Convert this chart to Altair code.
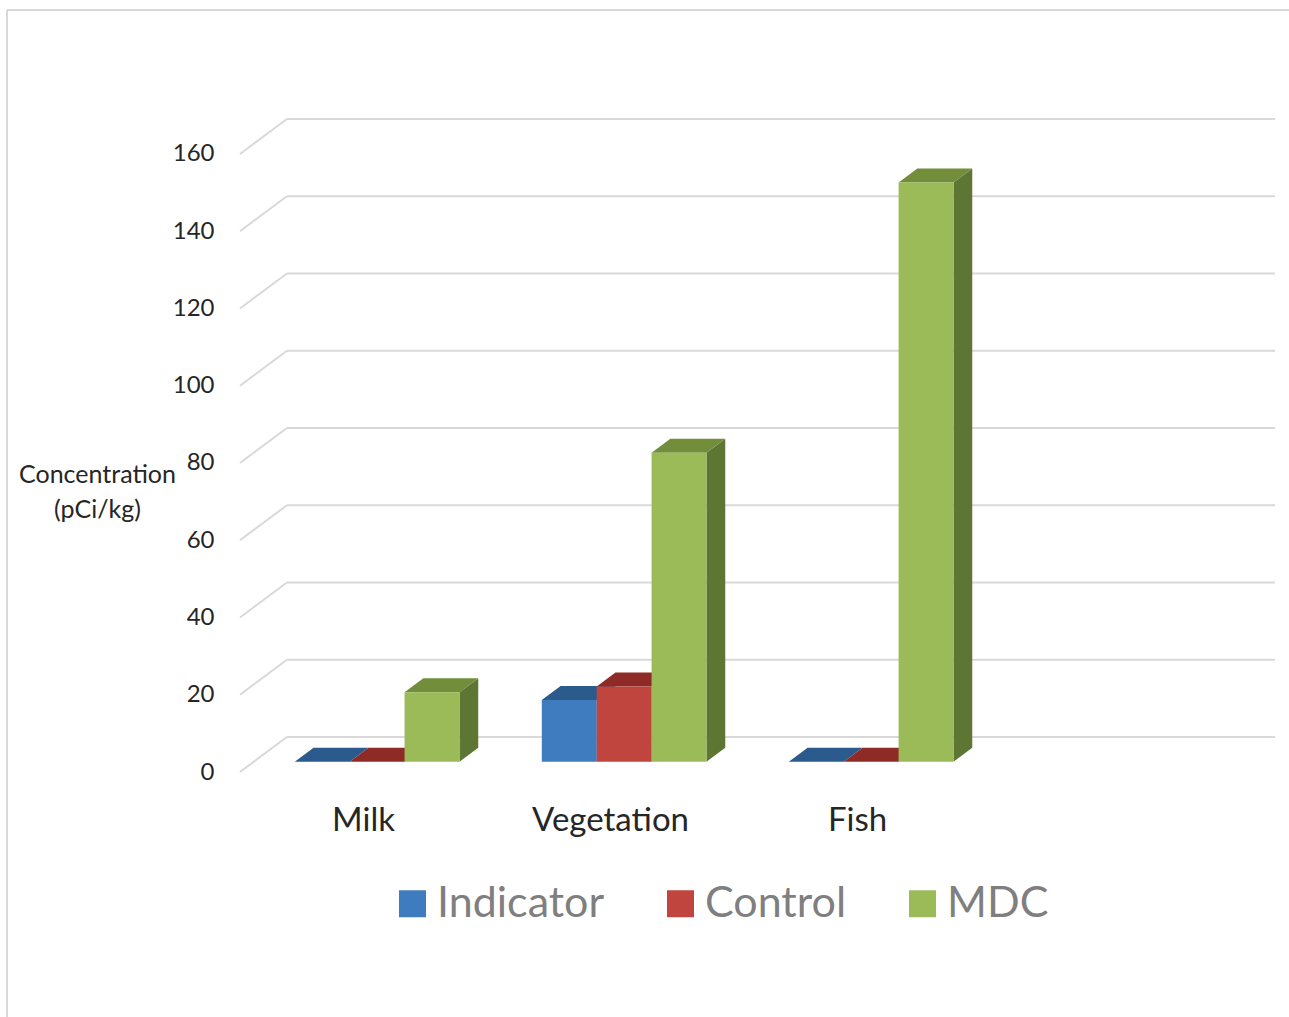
import altair as alt
import pandas as pd

# ---- data -------------------------------------------------------------
categories = ["Milk", "Vegetation", "Fish"]
series = ["Indicator", "Control", "MDC"]
indicator = [0, 16, 0]
control = [0, 19.5, 0]
mdc = [18, 80, 150]
y_ticks = [0, 20, 40, 60, 80, 100, 120, 140, 160]

front_colors = ["#3F7CBF", "#C0453F", "#9BBB59"]
top_colors = ["#2B5B8D", "#8F2B27", "#728E3A"]
side_colors = ["#2F5F93", "#952E2A", "#5E7633"]

# ---- 3-D box geometry (oblique projection) -----------------------------
N_SLOTS = 4          # category slots along the floor
DEPTH_X = 0.19       # depth of the box, in category units
DEPTH_Y = 9.06       # depth of the box, in value units
BAR_FRONT = 0.29     # depth fraction of the bars' front faces
BAR_BACK = 0.69      # depth fraction of the bars' back faces
GAP = 0.5            # gap between groups, relative to group width
bar_w = 1 / ((1 + GAP) * len(series))

values = {"Indicator": indicator, "Control": control, "MDC": mdc}
f_dx, f_dy = BAR_FRONT * DEPTH_X, BAR_FRONT * DEPTH_Y
b_dx, b_dy = BAR_BACK * DEPTH_X, BAR_BACK * DEPTH_Y

fronts, sides, tops = [], [], []
for c, cat in enumerate(categories):
    for i, s in enumerate(series):
        v = values[s][c]
        x0 = c + 0.5 - 1.5 * bar_w + i * bar_w
        x1 = x0 + bar_w
        bid = f"{cat}-{s}"
        fronts.append(dict(bar=bid, series=s, x=x0 + f_dx, x2=x1 + f_dx,
                           y=f_dy, y2=f_dy + v, value=v))
        sides.append(dict(bar=bid, fill=side_colors[i], x=x1 + f_dx,
                          top=f_dy + v, base=f_dy))
        sides.append(dict(bar=bid, fill=side_colors[i], x=x1 + b_dx,
                          top=b_dy + v, base=b_dy))
        tops.append(dict(bar=bid, fill=top_colors[i], y=f_dy + v,
                         left=x0 + f_dx, right=x1 + f_dx))
        tops.append(dict(bar=bid, fill=top_colors[i], y=b_dy + v,
                         left=x0 + b_dx, right=x1 + b_dx))

front_df = pd.DataFrame(fronts)
side_df = pd.DataFrame(sides)
top_df = pd.DataFrame(tops)
grid_df = pd.DataFrame({"v": y_ticks})
grid_df["back"] = grid_df["v"] + DEPTH_Y
grid_df["x0"] = 0.0
grid_df["x1"] = DEPTH_X
grid_df["x2"] = N_SLOTS + DEPTH_X
label_df = pd.DataFrame({"name": categories,
                         "x": [c + 0.5 for c in range(len(categories))],
                         "y": [0] * len(categories)})

xs = alt.Scale(domain=[0, N_SLOTS + DEPTH_X], nice=False, zero=False)
ys = alt.Scale(domain=[0, 160 + DEPTH_Y], nice=False, zero=False)
GRID = "#D9D9D9"

# one shared value axis on the front plane of the box
y_axis = alt.Axis(
    values=y_ticks, grid=False, ticks=False, domain=False,
    labelFontSize=24, labelColor="#262626", labelPadding=26,
    title=["Concentration", "(pCi/kg)"], titleFontSize=25,
    titleFontWeight="normal", titleColor="#262626", titleAngle=0,
    titleAlign="center", titleBaseline="top", titleLineHeight=35,
    titleX=-143, titleY=343)

# ---- layers -------------------------------------------------------------
grid_diag = alt.Chart(grid_df).mark_rule(color=GRID, strokeWidth=2).encode(
    x=alt.X("x0:Q", scale=xs, axis=None),
    x2="x1:Q",
    y=alt.Y("v:Q", scale=ys, axis=y_axis),
    y2="back:Q",
)
grid_back = alt.Chart(grid_df).mark_rule(color=GRID, strokeWidth=2).encode(
    x=alt.X("x1:Q", scale=xs, axis=None),
    x2="x2:Q",
    y=alt.Y("back:Q", scale=ys, axis=y_axis),
)

side_faces = alt.Chart(side_df).mark_area(orient="vertical").encode(
    x=alt.X("x:Q", scale=xs, axis=None),
    y=alt.Y("top:Q", scale=ys, axis=y_axis),
    y2="base:Q",
    detail="bar:N",
    color=alt.Color("fill:N", scale=None),
)

top_faces = alt.Chart(top_df).mark_area(orient="horizontal").encode(
    y=alt.Y("y:Q", scale=ys, axis=y_axis),
    x=alt.X("left:Q", scale=xs, axis=None),
    x2="right:Q",
    detail="bar:N",
    color=alt.Color("fill:N", scale=None),
)

front_faces = alt.Chart(front_df).mark_rect().encode(
    x=alt.X("x:Q", scale=xs, axis=None),
    x2="x2:Q",
    y=alt.Y("y:Q", scale=ys, axis=y_axis),
    y2="y2:Q",
    color=alt.Color("series:N",
                    scale=alt.Scale(domain=series, range=front_colors),
                    sort=series,
                    legend=alt.Legend(
                        title=None, orient="none", direction="horizontal",
                        legendX=151, legendY=763,
                        symbolType="square", symbolSize=729,
                        symbolStrokeWidth=0, symbolOpacity=1,
                        labelFontSize=43, labelColor="#7F7F7F",
                        labelOffset=3, columnPadding=54, labelLimit=400)),
)

cat_labels = alt.Chart(label_df).mark_text(
    fontSize=33, color="#262626", baseline="alphabetic", dy=59
).encode(
    x=alt.X("x:Q", scale=xs, axis=None),
    y=alt.Y("y:Q", scale=ys, axis=y_axis),
    text="name:N",
)

# light frame round the chart area
frame_left = alt.Chart(grid_df).mark_rule(color=GRID, strokeWidth=2).encode(
    x=alt.value(-233), y=alt.value(-109), y2=alt.value(900))
frame_top = alt.Chart(grid_df).mark_rule(color=GRID, strokeWidth=2).encode(
    x=alt.value(-233), x2=alt.value(1060), y=alt.value(-109))

chart = alt.layer(
    grid_diag, grid_back, frame_left, frame_top,
    side_faces, top_faces, front_faces, cat_labels,
).properties(
    width=1035, height=653,
    autosize=alt.AutoSizeParams(type="none"),
    padding={"left": 240, "top": 119, "right": 14, "bottom": 245},
    background="white",
).configure(
    font="Lato",
    view=alt.ViewConfig(stroke="transparent"),
)

chart.save("out.html", embed_options={"renderer": "svg", "actions": False})
